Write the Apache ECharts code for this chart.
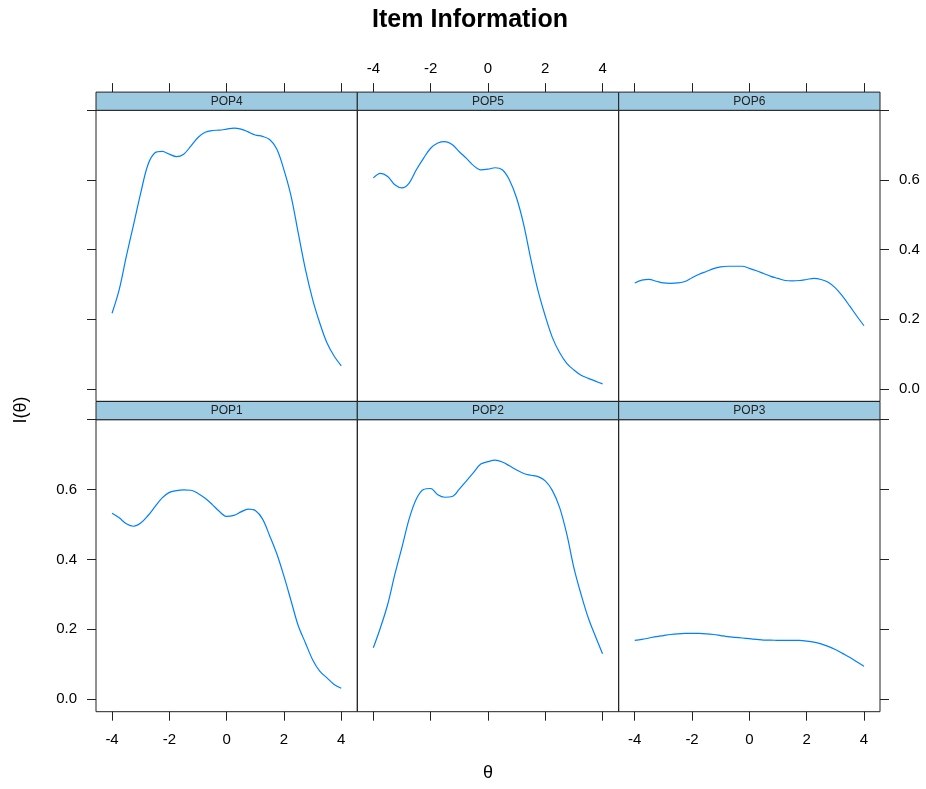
<!DOCTYPE html>
<html><head><meta charset="utf-8">
<script src="https://cdn.jsdelivr.net/npm/echarts@6/dist/echarts.min.js"></script>
<style>html,body{margin:0;padding:0;background:#fff}#c{width:926px;height:789px}</style>
</head><body><div id="c"></div>
<script>
const theta = [-4, -3.75, -3.5, -3.25, -3, -2.75, -2.5, -2.25, -2, -1.75, -1.5, -1.25, -1, -0.75, -0.5, -0.25, 0, 0.25, 0.5, 0.75, 1, 1.25, 1.5, 1.75, 2, 2.25, 2.5, 2.75, 3, 3.25, 3.5, 3.75, 4];
const pop4 = [0.217,0.285,0.381,0.471,0.562,0.643,0.678,0.682,0.674,0.667,0.674,0.697,0.722,0.737,0.742,0.743,0.746,0.749,0.746,0.738,0.729,0.725,0.716,0.689,0.629,0.553,0.447,0.343,0.257,0.189,0.132,0.094,0.066];
const pop5 = [0.606,0.619,0.610,0.586,0.577,0.591,0.629,0.662,0.691,0.706,0.710,0.702,0.681,0.662,0.641,0.629,0.631,0.635,0.629,0.600,0.548,0.471,0.371,0.281,0.209,0.147,0.104,0.073,0.054,0.039,0.030,0.022,0.014];
const pop6 = [0.304,0.312,0.314,0.309,0.304,0.303,0.304,0.308,0.319,0.329,0.337,0.345,0.350,0.352,0.352,0.352,0.346,0.339,0.331,0.323,0.317,0.311,0.310,0.311,0.314,0.317,0.314,0.306,0.290,0.266,0.238,0.209,0.181];
const pop1 = [0.532,0.519,0.502,0.495,0.504,0.525,0.551,0.576,0.592,0.597,0.599,0.598,0.589,0.575,0.557,0.537,0.523,0.526,0.536,0.544,0.540,0.516,0.468,0.416,0.352,0.281,0.210,0.161,0.113,0.080,0.061,0.042,0.031];
const pop2 = [0.147,0.205,0.271,0.357,0.435,0.516,0.573,0.600,0.603,0.585,0.578,0.580,0.601,0.625,0.649,0.673,0.680,0.684,0.679,0.668,0.656,0.646,0.641,0.637,0.625,0.597,0.549,0.473,0.376,0.300,0.233,0.180,0.130];
const pop3 = [0.168,0.171,0.175,0.179,0.182,0.185,0.187,0.188,0.188,0.188,0.187,0.185,0.182,0.179,0.177,0.175,0.173,0.171,0.169,0.169,0.168,0.168,0.168,0.168,0.166,0.163,0.158,0.151,0.142,0.131,0.120,0.107,0.094];

const panelNames = ['POP4', 'POP5', 'POP6', 'POP1', 'POP2', 'POP3'];
const panelSeries = [pop4, pop5, pop6, pop1, pop2, pop3];
const xTicks = [-4, -2, 0, 2, 4];
const yTicks = [0, 0.2, 0.4, 0.6, 0.8];
const yTickLabels = [0, 0.2, 0.4, 0.6];
const titleText = 'Item Information';
const xName = 'θ';
const yName = 'I(θ)';

const FONT = '"Liberation Sans", Arial, sans-serif';
const colLeft = [96, 357.3, 618.7];
const colW = 261.3;
const rowTop = [110.3, 419.7];
const rowH = [291, 292];
const stripH = 18.2;
const X_MIN = -4.56, X_MAX = 4.56, Y_MIN = -0.036, Y_MAX = 0.8;
const axisColor = '#222';

const grids = [], xAxes = [], yAxes = [], series = [], graphics = [];
for (let i = 0; i < 6; i++) {
  const r = Math.floor(i / 3), c = i % 3;
  grids.push({left: colLeft[c], top: rowTop[r], width: colW, height: rowH[r], show: true,
    borderColor: axisColor, borderWidth: 1, backgroundColor: 'transparent', containLabel: false});
  const top = r === 0;
  const showXLabels = top ? (c === 1) : (c !== 1);
  xAxes.push({type: 'value', gridIndex: i, min: X_MIN, max: X_MAX, position: top ? 'top' : 'bottom',
    offset: top ? stripH : 0,
    axisLine: {show: false, onZero: false}, splitLine: {show: false},
    axisTick: {show: true, inside: false, length: 9, customValues: xTicks, lineStyle: {color: axisColor, width: 1}},
    axisLabel: {show: showXLabels, customValues: xTicks, margin: top ? 15.5 : 21, color: '#000',
      fontFamily: FONT, fontSize: 15, formatter: v => String(v)}});
  const showYTicks = c !== 1;
  const showYLabels = (c === 0 && r === 1) || (c === 2 && r === 0);
  yAxes.push({type: 'value', gridIndex: i, min: Y_MIN, max: Y_MAX, position: c === 2 ? 'right' : 'left',
    axisLine: {show: false, onZero: false}, splitLine: {show: false},
    axisTick: {show: showYTicks, inside: false, length: 9, customValues: yTicks, lineStyle: {color: axisColor, width: 1}},
    axisLabel: {show: showYLabels, customValues: yTickLabels, margin: 19, color: '#000',
      fontFamily: FONT, fontSize: 15, formatter: v => v.toFixed(1)}});
  series.push({type: 'line', xAxisIndex: i, yAxisIndex: i, showSymbol: false, smooth: 0.35,
    data: theta.map((t, k) => [t, panelSeries[i][k]]),
    lineStyle: {color: '#0080ff', width: 1.2}, silent: true, animation: false});
  graphics.push({type: 'rect', shape: {x: colLeft[c], y: rowTop[r] - stripH, width: colW, height: stripH},
    style: {fill: '#9ecae1', stroke: axisColor, lineWidth: 1}, z: 10});
  graphics.push({type: 'text', x: colLeft[c] + colW / 2, y: rowTop[r] - stripH / 2,
    style: {text: panelNames[i], fill: '#222', font: '12px ' + FONT, align: 'center', verticalAlign: 'middle'}, z: 11});
}
graphics.push({type: 'text', x: 470, y: 20, style: {text: titleText, fill: '#000', font: 'bold 25px ' + FONT, align: 'center', verticalAlign: 'middle'}});
graphics.push({type: 'text', x: 488, y: 773, style: {text: xName, fill: '#000', font: '18px ' + FONT, align: 'center', verticalAlign: 'middle'}});
graphics.push({type: 'text', x: 21, y: 410, rotation: Math.PI / 2, style: {text: yName, fill: '#000', font: '18px ' + FONT, align: 'center', verticalAlign: 'middle'}});

const chart = echarts.init(document.getElementById('c'), null, {renderer: 'canvas'});
chart.setOption({animation: false, backgroundColor: '#fff', grid: grids, xAxis: xAxes, yAxis: yAxes, series: series, graphic: graphics});
</script>
</body></html>
